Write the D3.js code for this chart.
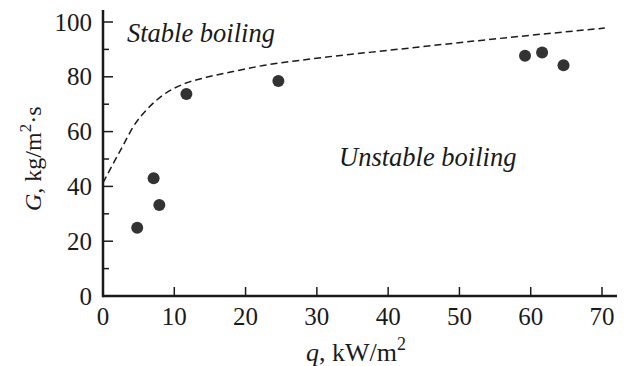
<!DOCTYPE html>
<html>
<head>
<meta charset="utf-8">
<script src="https://cdn.jsdelivr.net/npm/d3@7"></script>
</head>
<body style="margin:0">
<script>
// measured points
const pointQ = [4.8, 7.1, 7.9, 11.7, 24.6, 59.2, 61.6, 64.6];
const pointG = [24.9, 43.0, 33.2, 73.7, 78.5, 87.7, 88.9, 84.2];

// dashed boundary curve
const curveQ = [0, 1.45, 2.85, 4.25, 6.1, 8.45, 11.25, 14.5, 18.25, 22, 27.9, 41.6, 55.6, 70.4];
const curveG = [41.3, 48.4, 55.1, 61.8, 67.9, 73.4, 77.3, 79.8, 81.9, 83.9, 86.1, 90.1, 94, 97.8];

const xTicks = [0, 10, 20, 30, 40, 50, 60, 70];
const yTicks = [0, 20, 40, 60, 80, 100];
const yMinorTicks = [10, 30, 50, 70, 90];

const WIDTH = 624, HEIGHT = 366;
const FONT = "Liberation Serif";
const ink = "#1a1a1a";

const svg = d3.select("body").append("svg")
  .attr("width", WIDTH)
  .attr("height", HEIGHT);

const x = d3.scaleLinear().domain([0, 70]).range([103, 602]);
const y = d3.scaleLinear().domain([0, 100]).range([296, 22]);

// axis lines
svg.append("line")
  .attr("x1", x(0)).attr("x2", 617)
  .attr("y1", y(0)).attr("y2", y(0))
  .attr("stroke", ink).attr("stroke-width", 2.5);
svg.append("line")
  .attr("x1", x(0)).attr("x2", x(0))
  .attr("y1", y(0) + 1.2).attr("y2", 10)
  .attr("stroke", ink).attr("stroke-width", 2.5);

// x ticks (inward)
svg.selectAll(".xtick").data(xTicks).enter().append("line")
  .attr("class", "xtick")
  .attr("x1", d => x(d)).attr("x2", d => x(d))
  .attr("y1", y(0)).attr("y2", y(0) - 9)
  .attr("stroke", ink).attr("stroke-width", 1.5);
svg.selectAll(".xlab").data(xTicks).enter().append("text")
  .attr("class", "xlab")
  .attr("x", d => x(d)).attr("y", 325)
  .attr("font-family", FONT)
  .attr("font-size", 25)
  .attr("fill", ink)
  .attr("text-anchor", "middle")
  .text(d => d);

// y ticks
svg.selectAll(".ytick").data(yTicks).enter().append("line")
  .attr("class", "ytick")
  .attr("x1", x(0)).attr("x2", x(0) + 10)
  .attr("y1", d => y(d)).attr("y2", d => y(d))
  .attr("stroke", ink).attr("stroke-width", 1.5);
svg.selectAll(".ymtick").data(yMinorTicks).enter().append("line")
  .attr("class", "ymtick")
  .attr("x1", x(0)).attr("x2", x(0) + 6)
  .attr("y1", d => y(d)).attr("y2", d => y(d))
  .attr("stroke", ink).attr("stroke-width", 1.5);
svg.selectAll(".ylab").data(yTicks).enter().append("text")
  .attr("class", "ylab")
  .attr("x", 92).attr("y", d => y(d) + 8.5)
  .attr("font-family", FONT)
  .attr("font-size", 25)
  .attr("fill", ink)
  .attr("text-anchor", "end")
  .text(d => d);

// dashed boundary
const line = d3.line()
  .x(d => x(d[0]))
  .y(d => y(d[1]))
  .curve(d3.curveMonotoneX);
svg.append("path")
  .datum(curveQ.map((q, i) => [q, curveG[i]]))
  .attr("d", line)
  .attr("fill", "none")
  .attr("stroke", ink)
  .attr("stroke-width", 1.5)
  .attr("stroke-dasharray", "7,4");

// data points
svg.selectAll(".pt").data(pointQ.map((q, i) => [q, pointG[i]])).enter().append("circle")
  .attr("class", "pt")
  .attr("cx", d => x(d[0])).attr("cy", d => y(d[1]))
  .attr("r", 6)
  .attr("fill", "#333");

// region labels
svg.append("text")
  .attr("x", 127).attr("y", 42)
  .attr("font-family", FONT).attr("font-size", 26.5).attr("font-style", "italic")
  .attr("fill", ink)
  .text("Stable boiling");
svg.append("text")
  .attr("x", 339).attr("y", 166)
  .attr("font-family", FONT).attr("font-size", 26.5).attr("font-style", "italic")
  .attr("fill", ink)
  .text("Unstable boiling");

// x axis label (start-anchored so tspans can't shift it)
const xl = svg.append("text")
  .attr("x", 306).attr("y", 361)
  .attr("font-family", FONT).attr("font-size", 26)
  .attr("fill", ink);
xl.append("tspan").attr("font-style", "italic").text("q");
xl.append("tspan").text(", kW/m");
xl.append("tspan").attr("dy", -11).attr("font-size", 18).text("2");

// y axis label, runs upward from the bottom of "G"
const yl = svg.append("text")
  .attr("transform", "translate(41, 211) rotate(-90)")
  .attr("font-family", FONT).attr("font-size", 24)
  .attr("fill", ink);
yl.append("tspan").attr("font-style", "italic").text("G");
yl.append("tspan").text(", kg/m");
yl.append("tspan").attr("dy", -10).attr("font-size", 17).text("2");
yl.append("tspan").attr("dy", 10).text("\u00b7s");
</script>
</body>
</html>
